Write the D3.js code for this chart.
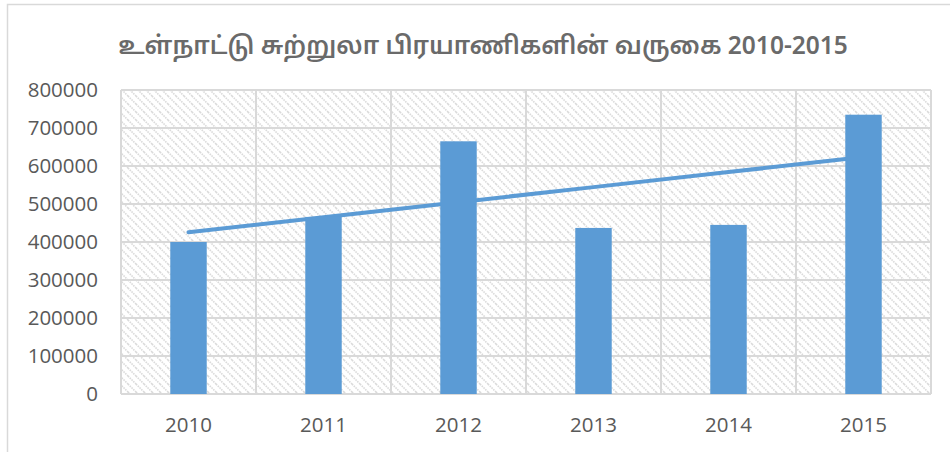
<!DOCTYPE html>
<html>
<head>
<meta charset="utf-8">
<script src="https://cdn.jsdelivr.net/npm/d3@7"></script>
<style>
  html, body { margin: 0; padding: 0; background: #fff; }
  svg { display: block; }
</style>
</head>
<body>
<svg width="950" height="452"></svg>
<script>
const d3 = window.d3

const title = 'உள்நாட்டு சுற்றுலா பிரயாணிகளின் வருகை 2010-2015'
const years = ['2010', '2011', '2012', '2013', '2014', '2015']
const arrivals = [400000, 466000, 665000, 437000, 445000, 735000]
const yTicks = [0, 100000, 200000, 300000, 400000, 500000, 600000, 700000, 800000]

const svg = d3.select('svg')
const blue = '#5b9bd5'
const grid = '#d9d9d9'
const textColor = '#595959'

const plot = { left: 121, right: 931, top: 90, bottom: 394 }

// hatched plot background
const defs = svg.append('defs')
const pat = defs
  .append('pattern')
  .attr('id', 'hatch')
  .attr('patternUnits', 'userSpaceOnUse')
  .attr('width', 8)
  .attr('height', 8)
pat.append('rect').attr('width', 8).attr('height', 8).attr('fill', '#fff')
pat
  .append('path')
  .attr('d', 'M0,0L8,8M-4,4L4,12M4,-4L12,4')
  .attr('stroke', '#dadada')
  .attr('stroke-width', 1.6)
  .attr('stroke-dasharray', '1.5,1')

// chart area border
svg
  .append('rect')
  .attr('x', 7.5)
  .attr('y', 4.5)
  .attr('width', 960)
  .attr('height', 460)
  .attr('fill', '#fff')
  .attr('stroke', grid)
  .attr('stroke-width', 1.5)

svg
  .append('text')
  .attr('x', 483)
  .attr('y', 54)
  .attr('text-anchor', 'middle')
  .attr('fill', '#6a6a6a')
  .attr('font-family', '"Noto Sans Tamil", Latha, "Noto Sans", sans-serif')
  .attr('font-size', 24.5)
  .attr('font-weight', 600)
  .text(title)

const x = d3
  .scaleBand()
  .domain(years)
  .range([plot.left, plot.right])
  .paddingInner(0.73)
  .paddingOuter(0.365)
const xCat = d3.scaleBand().domain(years).range([plot.left, plot.right])
const y = d3.scaleLinear().domain([0, 800000]).range([plot.bottom, plot.top])

svg
  .append('rect')
  .attr('x', plot.left)
  .attr('y', plot.top)
  .attr('width', plot.right - plot.left)
  .attr('height', plot.bottom - plot.top)
  .attr('fill', 'url(#hatch)')

// gridlines
svg
  .append('g')
  .selectAll('line.h')
  .data(yTicks)
  .join('line')
  .attr('x1', plot.left)
  .attr('x2', plot.right)
  .attr('y1', (d) => y(d))
  .attr('y2', (d) => y(d))
  .attr('stroke', grid)
  .attr('stroke-width', 2)
svg
  .append('g')
  .selectAll('line.v')
  .data(years.concat(['end']))
  .join('line')
  .attr('x1', (d) => (d === 'end' ? plot.right : xCat(d)))
  .attr('x2', (d) => (d === 'end' ? plot.right : xCat(d)))
  .attr('y1', plot.top)
  .attr('y2', plot.bottom)
  .attr('stroke', grid)
  .attr('stroke-width', 2)

// linear trendline (least squares over the bars)
const mx = d3.mean(arrivals, (d, i) => i)
const my = d3.mean(arrivals)
const slope =
  d3.sum(arrivals, (d, i) => (i - mx) * (d - my)) /
  d3.sum(arrivals, (d, i) => (i - mx) ** 2)
const trend = years.map((yr, i) => my + slope * (i - mx))
const line = d3
  .line()
  .x((d, i) => x(years[i]) + x.bandwidth() / 2)
  .y((d) => y(d))
svg
  .append('path')
  .attr('d', line(trend))
  .attr('fill', 'none')
  .attr('stroke', blue)
  .attr('stroke-width', 4)
  .attr('stroke-linecap', 'round')

svg
  .append('g')
  .selectAll('rect')
  .data(arrivals)
  .join('rect')
  .attr('x', (d, i) => x(years[i]))
  .attr('y', (d) => y(d))
  .attr('width', x.bandwidth())
  .attr('height', (d) => y(0) - y(d))
  .attr('fill', blue)

// axes
const yAxis = svg
  .append('g')
  .attr('transform', `translate(${plot.left - 23},0)`)
  .call(
    d3.axisLeft(y).tickValues(yTicks).tickFormat(d3.format('d')).tickSize(0).tickPadding(0)
  )
const xAxis = svg
  .append('g')
  .attr('transform', `translate(0,${plot.bottom + 31})`)
  .call(d3.axisBottom(xCat).tickSize(0).tickPadding(0))
;[yAxis, xAxis].forEach((g) => {
  g.select('.domain').remove()
  g.selectAll('text')
    .attr('fill', textColor)
    .attr('font-family', '"Open Sans", "Noto Sans", sans-serif')
    .attr('font-size', 20.5)
})
xAxis.selectAll('text').attr('dy', '0.35em')
</script>
</body>
</html>
